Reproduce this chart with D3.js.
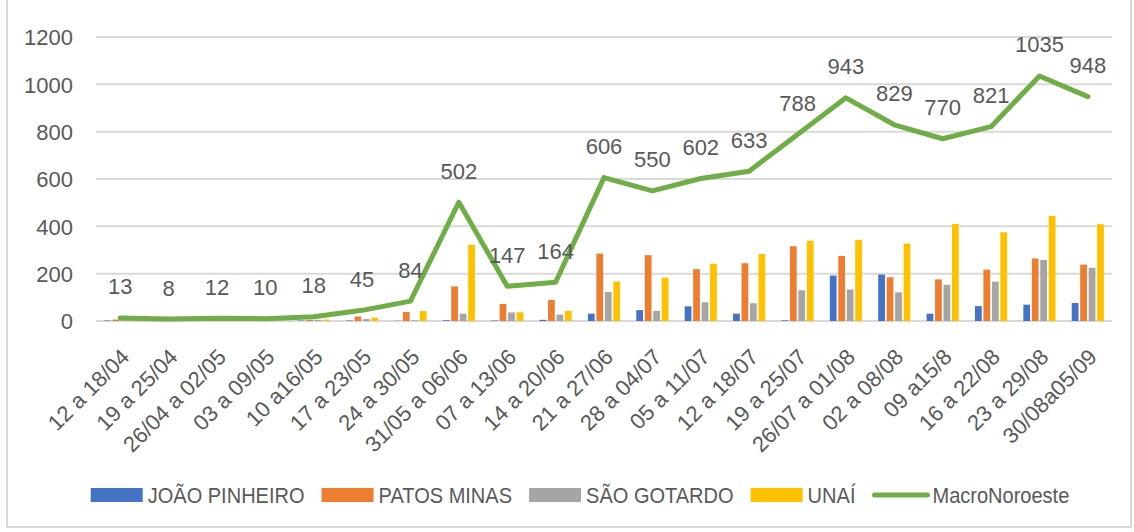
<!DOCTYPE html>
<html>
<head>
<meta charset="utf-8">
<script src="https://cdn.jsdelivr.net/npm/d3@7"></script>
<style>
    body { margin: 0; background: #fff; }
    text { font-family: "Liberation Sans", Arial, sans-serif; fill: #595959; }
</style>
</head>
<body>
<svg width="1134" height="532"></svg>
<script>
var weeks = ["12 a 18/04", "19 a 25/04", "26/04 a 02/05", "03 a 09/05", "10 a16/05", "17 a 23/05",
    "24 a 30/05", "31/05 a 06/06", "07 a 13/06", "14 a 20/06", "21 a 27/06", "28 a 04/07",
    "05 a 11/07", "12 a 18/07", "19 a 25/07", "26/07 a 01/08", "02 a 08/08", "09 a15/8",
    "16 a 22/08", "23 a 29/08", "30/08a05/09"];

var seriesNames = ["JOÃO PINHEIRO", "PATOS MINAS", "SÃO GOTARDO", "UNAÍ"];
var lineName = "MacroNoroeste";

var joaoPinheiro = [2, 1, 2, 1, 2, 2, 1, 3, 2, 5, 31, 46, 62, 31, 3, 192, 196, 31, 63, 69, 76];
var patosMinas = [6, 3, 4, 4, 5, 19, 38, 146, 72, 89, 285, 278, 219, 244, 316, 275, 185, 176, 217, 264, 238];
var saoGotardo = [2, 2, 3, 2, 5, 8, 3, 31, 36, 27, 123, 43, 79, 75, 130, 133, 121, 153, 166, 258, 225];
var unai = [3, 2, 3, 3, 6, 14, 42, 322, 37, 43, 167, 183, 242, 283, 339, 343, 327, 410, 375, 444, 409];
var macroNoroeste = [13, 8, 12, 10, 18, 45, 84, 502, 147, 164, 606, 550, 602, 633, 788, 943, 829, 770, 821, 1035, 948];

var yTicks = [0, 200, 400, 600, 800, 1000, 1200];
var colors = ["#4472C4", "#ED7D31", "#A5A5A5", "#FFC000"];
var lineColor = "#70AD47";

var svg = d3.select("svg"),
    width = +svg.attr("width"),
    height = +svg.attr("height");

var plot = {left: 96, right: 1112, top: 37, bottom: 321};

var rows = weeks.map(function (w, i) {
    return {week: w, values: [joaoPinheiro[i], patosMinas[i], saoGotardo[i], unai[i]], total: macroNoroeste[i]};
});

var x0 = d3.scaleBand()
    .domain(weeks)
    .range([plot.left, plot.right])
    .paddingInner(0.3)
    .paddingOuter(0.15);

var x1 = d3.scaleBand()
    .domain(d3.range(seriesNames.length))
    .range([0, x0.bandwidth()])
    .paddingInner(0.2)
    .paddingOuter(0.1);

var y = d3.scaleLinear()
    .domain([0, 1200])
    .range([plot.bottom, plot.top]);

// chart frame
svg.append("rect")
    .attr("x", 7)
    .attr("y", -5)
    .attr("width", 1124)
    .attr("height", 532)
    .attr("fill", "none")
    .attr("stroke", "#d9d9d9")
    .attr("stroke-width", 2);

// gridlines
svg.append("g")
    .selectAll("line")
    .data(yTicks)
    .enter().append("line")
    .attr("x1", plot.left)
    .attr("x2", plot.right)
    .attr("y1", function (d) { return y(d); })
    .attr("y2", function (d) { return y(d); })
    .attr("stroke", "#d9d9d9")
    .attr("stroke-width", 2);

// y axis labels
var yAxis = d3.axisLeft(y)
    .tickValues(yTicks)
    .tickFormat(d3.format("d"))
    .tickSize(0)
    .tickPadding(0);

svg.append("g")
    .attr("transform", "translate(73,0)")
    .call(yAxis)
    .call(function (g) { g.select(".domain").remove(); })
    .selectAll("text")
    .style("font-size", "22px")
    .style("font-family", "Liberation Sans, Arial, sans-serif")
    .attr("fill", "#595959")
    .attr("dy", "0.36em");

// x axis labels
svg.append("g")
    .selectAll("text")
    .data(weeks)
    .enter().append("text")
    .attr("transform", function (d) {
        return "translate(" + (x0(d) + x0.bandwidth() / 2 + 5) + ",353) rotate(-45)";
    })
    .attr("text-anchor", "end")
    .attr("dy", "0.35em")
    .style("font-size", "22px")
    .text(function (d) { return d; });

// bars
var group = svg.append("g")
    .selectAll("g")
    .data(rows)
    .enter().append("g")
    .attr("transform", function (d) { return "translate(" + x0(d.week) + ",0)"; });

group.selectAll("rect")
    .data(function (d) { return d.values; })
    .enter().append("rect")
    .attr("x", function (d, i) { return x1(i); })
    .attr("width", x1.bandwidth())
    .attr("y", function (d) { return y(d); })
    .attr("height", function (d) { return y(0) - y(d); })
    .attr("fill", function (d, i) { return colors[i]; });

// total line
var line = d3.line()
    .x(function (d) { return x0(d.week) + x0.bandwidth() / 2; })
    .y(function (d) { return y(d.total); });

svg.append("path")
    .datum(rows)
    .attr("d", line)
    .attr("fill", "none")
    .attr("stroke", lineColor)
    .attr("stroke-width", 5)
    .attr("stroke-linejoin", "round")
    .attr("stroke-linecap", "round");

svg.append("g")
    .selectAll("text")
    .data(rows)
    .enter().append("text")
    .attr("x", function (d) { return x0(d.week) + x0.bandwidth() / 2; })
    .attr("y", function (d) { return y(d.total) - 31.5; })
    .attr("text-anchor", "middle")
    .attr("dy", "0.36em")
    .style("font-size", "22px")
    .text(function (d) { return d.total; });

// legend (text squeezed a little to mimic the narrower Calibri capitals)
var legendItems = seriesNames.map(function (n, i) {
    return {name: n, color: colors[i], type: "bar"};
});
legendItems.push({name: lineName, color: lineColor, type: "line"});

var legend = svg.append("g");
var lx = 0;
legendItems.forEach(function (item) {
    var g = legend.append("g").attr("transform", "translate(" + lx + ",0)");
    var keyW = item.type === "bar" ? 52 : 57;
    var gap = item.type === "bar" ? 5 : 3;
    if (item.type === "bar") {
        g.append("rect")
            .attr("x", 0)
            .attr("y", 488)
            .attr("width", keyW)
            .attr("height", 14)
            .attr("fill", item.color);
    } else {
        g.append("line")
            .attr("x1", 2)
            .attr("x2", keyW - 2)
            .attr("y1", 495)
            .attr("y2", 495)
            .attr("stroke", item.color)
            .attr("stroke-width", 5)
            .attr("stroke-linecap", "round");
    }
    var t = g.append("text")
        .attr("x", keyW + gap)
        .attr("y", 495)
        .attr("dy", "0.36em")
        .style("font-size", "22px")
        .text(item.name);
    var w = t.node().getComputedTextLength() * 0.91;
    t.attr("textLength", w).attr("lengthAdjust", "spacingAndGlyphs");
    lx += keyW + gap + w + 17;
});
lx -= 17;
legend.attr("transform", "translate(" + (580 - lx / 2) + ",0)");
</script>
</body>
</html>
